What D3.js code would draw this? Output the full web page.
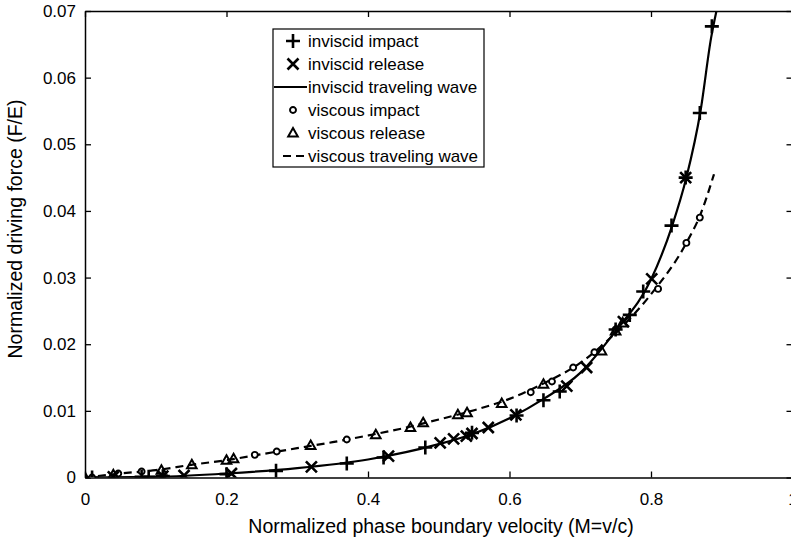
<!DOCTYPE html>
<html>
<head>
<meta charset="utf-8">
<script src="https://cdn.jsdelivr.net/npm/d3@7"></script>
<style>
  body { margin: 0; background: #fff; }
  svg { display: block; font-family: "Liberation Sans", Arial, sans-serif; }
</style>
</head>
<body>
<div id="chart"></div>
<script>
// curves
const inviscidWaveM = [0, 0.1, 0.2, 0.3, 0.4, 0.5, 0.55, 0.6, 0.65, 0.7, 0.75, 0.8, 0.83, 0.85, 0.87, 0.885, 0.895];
const inviscidWaveF = [0, 0.0001, 0.0006, 0.0014, 0.0027, 0.005, 0.0066, 0.0089, 0.0119, 0.0157, 0.022, 0.0297, 0.0378, 0.045, 0.055, 0.066, 0.0712];
const viscousWaveM = [0, 0.05, 0.1, 0.15, 0.2, 0.25, 0.3, 0.35, 0.4, 0.45, 0.5, 0.55, 0.6, 0.65, 0.7, 0.75, 0.8, 0.85, 0.87, 0.889];
const viscousWaveF = [0, 0.0006, 0.0011, 0.0019, 0.0026, 0.0035, 0.0044, 0.0053, 0.0063, 0.0074, 0.0087, 0.0101, 0.0118, 0.0142, 0.0172, 0.0217, 0.0275, 0.0352, 0.0395, 0.0455];

// markers
const inviscidImpactM = [0.01, 0.08, 0.09, 0.11, 0.2, 0.27, 0.37, 0.422, 0.481, 0.547, 0.61, 0.648, 0.671, 0.75, 0.77, 0.789, 0.829, 0.849, 0.869, 0.886];
const inviscidImpactF = [0.0000, 0.0001, 0.0001, 0.0002, 0.0005, 0.0010, 0.0021, 0.0030, 0.0045, 0.0067, 0.0093, 0.0116, 0.0129, 0.0222, 0.0244, 0.0279, 0.0378, 0.045, 0.0547, 0.0677];
const inviscidReleaseM = [0.04, 0.11, 0.14, 0.207, 0.32, 0.429, 0.502, 0.521, 0.539, 0.547, 0.57, 0.609, 0.681, 0.709, 0.761, 0.801, 0.849];
const inviscidReleaseF = [0.0001, 0.0002, 0.0003, 0.0006, 0.0016, 0.0032, 0.0052, 0.0058, 0.0062, 0.0066, 0.0075, 0.0094, 0.0137, 0.0165, 0.0234, 0.0298, 0.045];
const viscousImpactM = [0.01, 0.047, 0.08, 0.24, 0.271, 0.37, 0.63, 0.66, 0.69, 0.72, 0.75, 0.81, 0.85, 0.869];
const viscousImpactF = [0.0000, 0.0006, 0.0009, 0.0034, 0.0039, 0.0057, 0.0128, 0.0144, 0.0165, 0.0188, 0.0222, 0.0283, 0.0352, 0.039];
const viscousReleaseM = [0.0, 0.04, 0.108, 0.151, 0.2, 0.21, 0.319, 0.411, 0.46, 0.478, 0.527, 0.54, 0.589, 0.648, 0.73, 0.75, 0.76];
const viscousReleaseF = [0.0000, 0.0004, 0.0011, 0.0019, 0.0026, 0.0028, 0.0048, 0.0064, 0.0075, 0.0082, 0.0094, 0.0097, 0.0111, 0.014, 0.019, 0.022, 0.0232];

const xTicks = [0, 0.2, 0.4, 0.6, 0.8, 1];
const yTicks = [0, 0.01, 0.02, 0.03, 0.04, 0.05, 0.06, 0.07];
const legendLabels = ["inviscid impact", "inviscid release", "inviscid traveling wave",
  "viscous impact", "viscous release", "viscous traveling wave"];

const width = 791, height = 541;
const plotLeft = 85, plotRight = 792.5, plotTop = 11, plotBottom = 477.5;

const svg = d3.select("#chart")
  .append("svg")
  .attr("width", width)
  .attr("height", height);

const x = d3.scaleLinear().domain([0, 1]).range([plotLeft, plotRight]);
const y = d3.scaleLinear().domain([0, 0.07]).range([plotBottom, plotTop]);
const fmt = d3.format("~g");

// axes, matlab style with ticks inside the box
svg.append("g")
  .attr("transform", `translate(0,${plotBottom})`)
  .call(d3.axisBottom(x).tickValues(xTicks).tickFormat(fmt).tickSize(-6).tickSizeOuter(0).tickPadding(15));
svg.append("g")
  .attr("transform", `translate(${plotLeft},0)`)
  .call(d3.axisLeft(y).tickValues(yTicks).tickFormat(fmt).tickSize(-6).tickSizeOuter(0).tickPadding(9));
svg.append("g")
  .attr("transform", `translate(0,${plotTop})`)
  .call(d3.axisTop(x).tickValues(xTicks).tickFormat("").tickSize(-6).tickSizeOuter(0));
svg.append("g")
  .attr("transform", `translate(${plotRight},0)`)
  .call(d3.axisRight(y).tickValues(yTicks).tickFormat("").tickSize(-6).tickSizeOuter(0));

svg.selectAll(".tick text").attr("font-size", 17).attr("font-family", "Liberation Sans, Arial, sans-serif").attr("fill", "#000");
svg.selectAll(".domain").attr("stroke", "#000").attr("stroke-width", 1.5);
svg.selectAll(".tick line").attr("stroke", "#000").attr("stroke-width", 1.3);

// clip curves to the box
svg.append("clipPath").attr("id", "box")
  .append("rect").attr("x", plotLeft).attr("y", plotTop).attr("width", plotRight - plotLeft).attr("height", plotBottom - plotTop);

const plot = svg.append("g").attr("clip-path", "url(#box)");

const line = d3.line()
  .x(d => x(d[0]))
  .y(d => y(d[1]))
  .curve(d3.curveMonotoneX);

plot.append("path")
  .datum(d3.zip(inviscidWaveM, inviscidWaveF))
  .attr("d", line)
  .attr("fill", "none")
  .attr("stroke", "#000")
  .attr("stroke-width", 2.2);

plot.append("path")
  .datum(d3.zip(viscousWaveM, viscousWaveF))
  .attr("d", line)
  .attr("fill", "none")
  .attr("stroke", "#000")
  .attr("stroke-width", 2.2)
  .attr("stroke-dasharray", "8,5");

// marker shapes
const markers = {
  plus: { d: "M-7,0H7M0,-7V7", w: 2.6, fill: "none" },
  cross: { d: "M-5.5,-5.5L5.5,5.5M-5.5,5.5L5.5,-5.5", w: 2.6, fill: "none" },
  circle: { d: "M3,0A3,3 0 1,1 -3,0A3,3 0 1,1 3,0Z", w: 1.9, fill: "#fff" },
  triangle: { d: "M0,-5L4.8,3.5H-4.8Z", w: 2, fill: "none" }
};

function drawMarkers(ms, fs, m) {
  plot.append("g")
    .selectAll("path")
    .data(d3.zip(ms, fs))
    .join("path")
    .attr("transform", d => `translate(${x(d[0])},${y(d[1])})`)
    .attr("d", m.d)
    .attr("fill", m.fill)
    .attr("stroke", "#000")
    .attr("stroke-width", m.w);
}

drawMarkers(viscousImpactM, viscousImpactF, markers.circle);
drawMarkers(viscousReleaseM, viscousReleaseF, markers.triangle);
drawMarkers(inviscidImpactM, inviscidImpactF, markers.plus);
drawMarkers(inviscidReleaseM, inviscidReleaseF, markers.cross);

// axis titles
svg.append("text")
  .attr("x", 441)
  .attr("y", 533)
  .attr("text-anchor", "middle")
  .attr("font-size", 19.5)
  .text("Normalized phase boundary velocity (M=v/c)");

svg.append("text")
  .attr("transform", "translate(22,229) rotate(-90)")
  .attr("text-anchor", "middle")
  .attr("font-size", 19.5)
  .text("Normalized driving force (F/E)");

// legend
const legend = svg.append("g").attr("transform", "translate(273,29)");
legend.append("rect")
  .attr("width", 211)
  .attr("height", 138)
  .attr("fill", "#fff")
  .attr("stroke", "#000")
  .attr("stroke-width", 1.2);

const legendKeys = ["plus", "cross", "line", "circle", "triangle", "dash"];
const rows = legend.selectAll("g.row")
  .data(legendLabels)
  .join("g")
  .attr("class", "row")
  .attr("transform", (d, i) => `translate(0,${12 + i * 23})`);

rows.append("text")
  .attr("x", 35)
  .attr("dy", "0.35em")
  .attr("font-size", 17)
  .text(d => d);

rows.each(function (d, i) {
  const row = d3.select(this);
  const k = legendKeys[i];
  if (k === "line" || k === "dash") {
    row.append("line")
      .attr("x1", k === "line" ? 1 : 10).attr("x2", 34)
      .attr("stroke", "#000").attr("stroke-width", 2.2)
      .attr("stroke-dasharray", k === "dash" ? "8,5" : null);
  } else {
    const m = markers[k];
    row.append("path")
      .attr("transform", "translate(20,0)")
      .attr("d", m.d)
      .attr("fill", m.fill)
      .attr("stroke", "#000")
      .attr("stroke-width", m.w);
  }
});
</script>
</body>
</html>
